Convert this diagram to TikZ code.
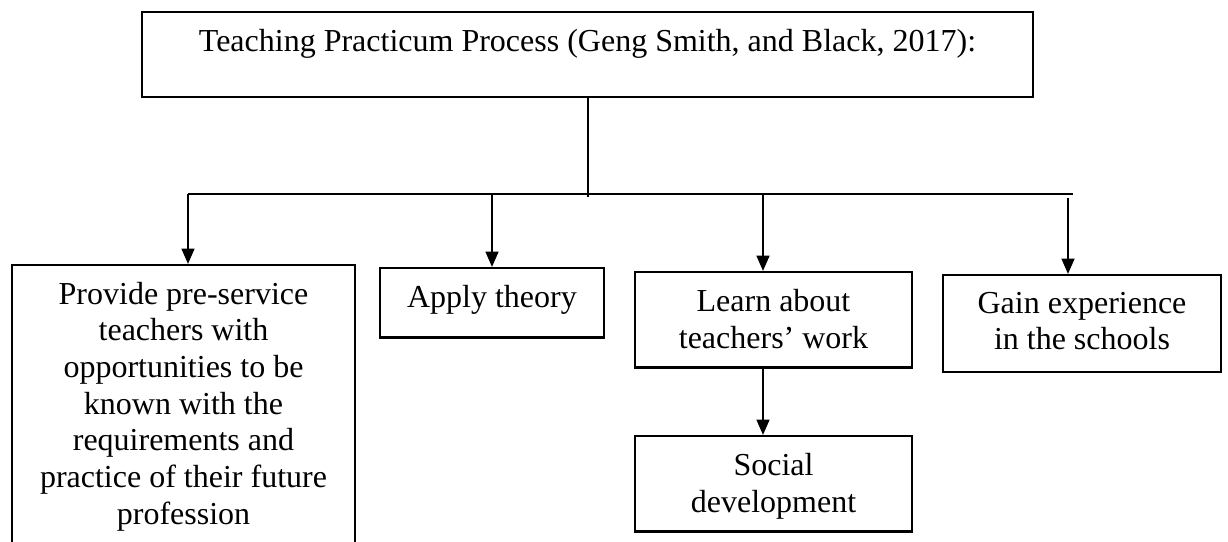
\documentclass[tikz,border=0pt]{standalone}
\usepackage{fontspec}
\setmainfont{Liberation Serif}
\usetikzlibrary{arrows.meta,positioning}

\begin{document}
\begin{tikzpicture}[x=.375pt,y=-.375pt,
	font=\fontsize{12pt}{13.76pt}\selectfont,
	box/.style={draw,line width=.85pt,anchor=north,inner xsep=0pt,inner ysep=0pt,align=flush center,text height=14.8pt},
	link/.style={line width=.85pt,-{Triangle[width=4.8pt,length=5.8pt]}}]
	\useasboundingbox (0,0) rectangle (1228,542);
	\clip (0,0) rectangle (1228,542);

	\node[box,text width=334.1pt,text height=14.6pt,text depth=17.2pt] (process) at (587.5,11) {Teaching Practicum Process (Geng Smith, and Black, 2017):};

	\node[box,text width=128.6pt,text height=14.6pt,text depth=92.6pt] (provide) at (183.5,264) {Provide pre-service\\teachers with\\opportunities to be\\known with the\\requirements and\\practice of their future\\profession};
	\node[box,text width=84pt,text depth=11.2pt] (apply) at (492,267) {Apply theory};
	\node[box,text width=103.9pt,text depth=21pt] (learn) at (773.5,271) {Learn about\\teachers’ work};
	\node[box,text width=103.9pt,text depth=21pt] (social) at (773.5,435) {Social\\development};
	\node[box,text width=104.2pt,text height=14.3pt,text depth=22.1pt] (gain) at (1082,274) {Gain experience\\in the schools};

	\coordinate (hub) at (588,197);
	\coordinate (barL) at (188,194);
	\coordinate (barR) at (1073,194);
	\coordinate (learnIn) at (763,194);
	\coordinate (gainIn) at (1068,198);

	\draw[line width=.85pt] (process.south -| hub) -- (hub);
	\draw[line width=.85pt] (barL) -- (barR);
	\draw[link] (barL) -- (barL |- provide.north);
	\draw[link] (apply.north |- barL) -- (apply.north);
	\draw[link] (learnIn) -- (learnIn |- learn.north);
	\draw[link] (gainIn) -- (gainIn |- gain.north);
	\draw[link] (learn.south -| learnIn) -- (learnIn |- social.north);
\end{tikzpicture}
\end{document}
